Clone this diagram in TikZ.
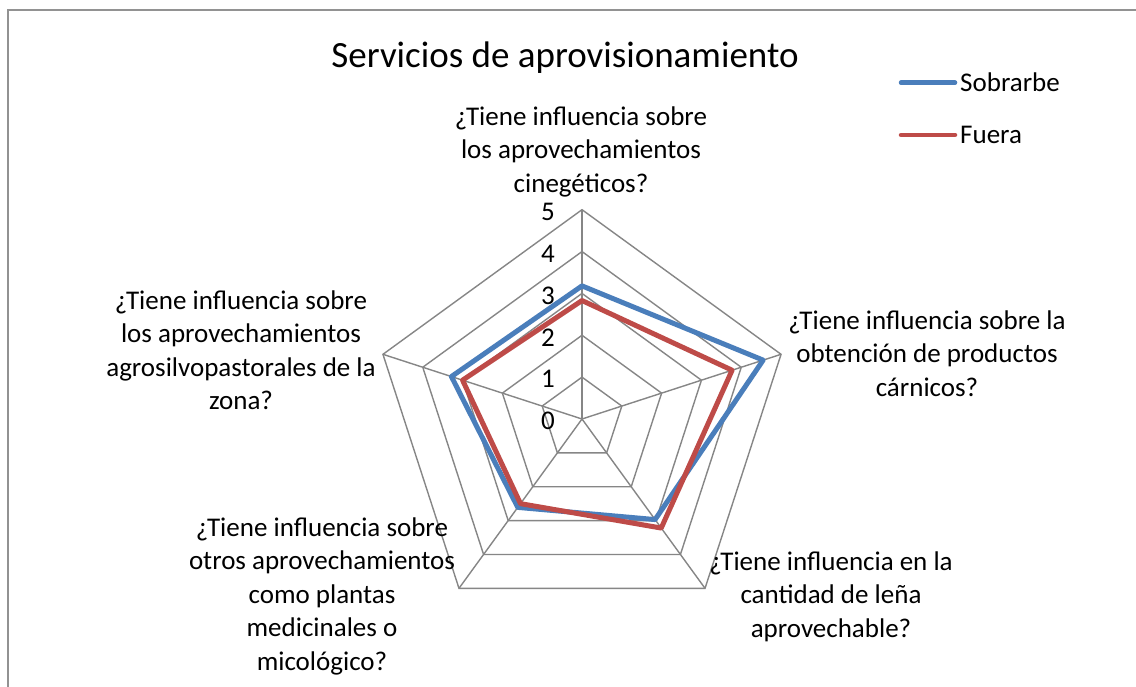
\documentclass[tikz,border=0pt]{standalone}
\usepackage{fontspec}
\setmainfont{Carlito}
\definecolor{sobrarbe}{HTML}{4A7EBB}
\definecolor{fuera}{HTML}{BE4B48}
\definecolor{rejilla}{HTML}{868686}
\newcommand{\uu}{41.86}
\newcommand{\ring}[1]{\draw[rejilla, line width=1.4pt] (90:#1*\uu) -- (18:#1*\uu) -- (-54:#1*\uu) -- (-126:#1*\uu) -- (162:#1*\uu) -- cycle;}
\newcommand{\serie}[6]{\draw[#1, line width=5pt, line join=round] (90:#2*\uu) -- (18:#3*\uu) -- (-54:#4*\uu) -- (-126:#5*\uu) -- (162:#6*\uu) -- cycle;}
\tikzset{
    etiq/.style={font=\fontsize{27}{33.5}\selectfont, inner sep=0},
    eje/.style={etiq, align=center}
}

\begin{document}
\begin{tikzpicture}[x=1pt, y=1pt]
    \useasboundingbox (0,0) rectangle (1136,687);
    \fill[white] (0,0) rectangle (1136,687);
    \draw[rejilla!90, line width=2pt] (1150,677) -- (8,677) -- (8,-10);
    \node[font=\fontsize{37}{44}\selectfont] (titulo) at (565,629) {Servicios de aprovisionamiento};
    \begin{scope}[shift={(582,268)}]
        \foreach \k in {1,...,5} {\ring{\k}}
        \foreach \a in {90,18,-54,-126,162} {\draw[rejilla, line width=1.4pt] (0,0) -- (\a:5*\uu);}
        \foreach \k in {0,...,5} {\node[etiq] (tick\k) at (-34,\k*\uu-2) {\k};}
        \serie{sobrarbe}{3.18}{4.55}{2.97}{2.61}{3.28}
        \serie{fuera}{2.83}{3.77}{3.22}{2.50}{3.00}
    \end{scope}
    % etiquetas de los ejes
    \node[eje] (eje1) at (581,535.5) {¿Tiene influencia sobre\\los aprovechamientos\\cinegéticos?};
    \node[eje] (eje2) at (927,333.5) {¿Tiene influencia sobre la\\obtención de productos\\cárnicos?};
    \node[eje] (eje3) at (831,90.5) {¿Tiene influencia en la\\cantidad de leña\\aprovechable?};
    \node[eje] (eje4) at (322,91) {¿Tiene influencia sobre\\otros aprovechamientos\\como plantas\\medicinales o\\micológico?};
    \node[eje] (eje5) at (241,337) {¿Tiene influencia sobre\\los aprovechamientos\\agrosilvopastorales de la\\zona?};
    % leyenda
    \coordinate (ley1) at (901,604.3);
    \coordinate (ley2) at (901,552);
    \node[etiq, anchor=west] (sob) at (960,604.3) {Sobrarbe};
    \node[etiq, anchor=west] (fue) at (960,552) {Fuera};
    \draw[sobrarbe, line width=4.5pt, line cap=round] (ley1) -- ([xshift=-5pt]sob.west);
    \draw[fuera, line width=4.5pt, line cap=round] (ley2) -- ([xshift=-5pt]fue.west);
\end{tikzpicture}
\end{document}
